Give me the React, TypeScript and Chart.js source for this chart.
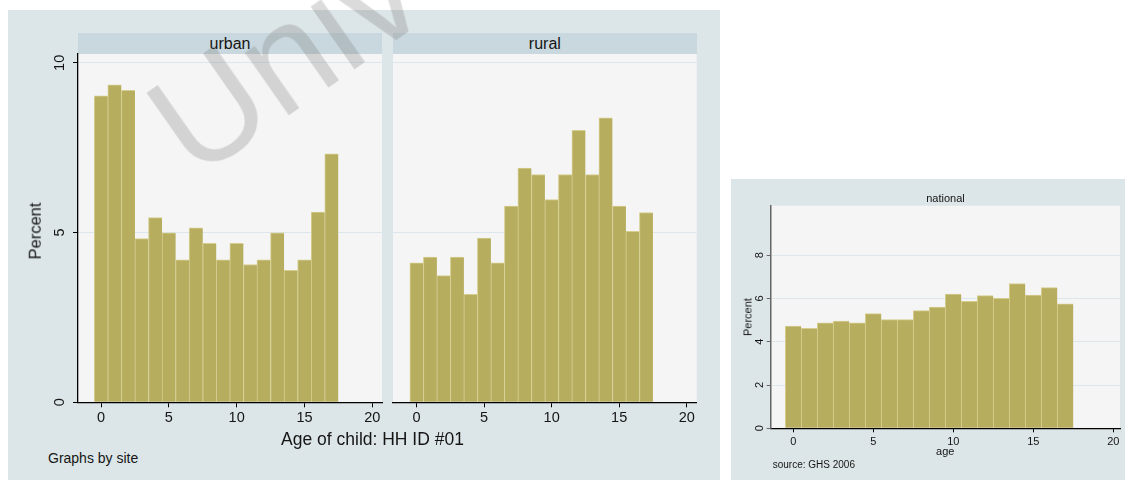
import React, { useEffect, useRef } from "react";
import { Chart, registerables } from "chart.js";

Chart.register(...registerables);

// ---------- data ----------
const ages = [0, 1, 2, 3, 4, 5, 6, 7, 8, 9, 10, 11, 12, 13, 14, 15, 16, 17];
const urbanPercent = [9.03, 9.35, 9.19, 4.82, 5.44, 4.99, 4.2, 5.14, 4.68, 4.2, 4.68, 4.06, 4.2, 4.99, 3.89, 4.2, 5.6, 7.32];
const ruralPercent = [4.11, 4.28, 3.73, 4.28, 3.18, 4.84, 4.11, 5.78, 6.9, 6.71, 5.97, 6.71, 8.01, 6.71, 8.38, 5.78, 5.04, 5.59];
const nationalPercent = [4.73, 4.62, 4.87, 4.96, 4.88, 5.3, 5.02, 5.02, 5.44, 5.6, 6.21, 5.87, 6.13, 6.01, 6.69, 6.16, 6.5, 5.75];
const ageTicks = [0, 5, 10, 15, 20];
const siteYTicks = [0, 5, 10];
const nationalYTicks = [0, 2, 4, 6, 8];

// ---------- styles ----------
const FONT = '"Liberation Sans", Arial, Helvetica, sans-serif';
const BAR_FILL = "#b7ad5f";
const BAR_EDGE = "#d5cd8e";
const PLOT_BG = "#f5f5f5";
const GRAPH_BG = "#dce5e7";
const STRIP_BG = "#c9d8de";
const GRID = "#dde6ea";
const TEXT = "#151515";

type Spec = {
  box: { left: number; top: number; width: number; height: number };
  area: { left: number; top: number; right: number; bottom: number };
  values: number[];
  xMin: number;
  xMax: number;
  yMax: number;
  xTicks: number[];
  yTicks: number[];
  tickFont: number;
  xLabelY: number;
  yLabelX: number;
  showYAxis: boolean;
  yAxisColor: string;
  yAxisWidth: number;
  xAxisWidth: number;
  tickLen: number;
};

function Panel({ spec }: { spec: Spec }) {
  const ref = useRef<HTMLCanvasElement>(null);
  useEffect(() => {
    const s = spec;
    const { box, area } = s;
    const yW = 10;
    const xH = 10;
    const padL = area.left - box.left - yW;
    const padT = area.top - box.top;
    const padR = box.left + box.width - area.right;
    const padB = box.top + box.height - area.bottom - xH;

    const stataPlugin = {
      id: "stataPanel",
      beforeDraw(chart: any) {
        const { ctx, chartArea } = chart;
        ctx.save();
        ctx.fillStyle = PLOT_BG;
        ctx.fillRect(chartArea.left, chartArea.top, chartArea.right - chartArea.left, chartArea.bottom - chartArea.top);
        ctx.restore();
      },
      afterDraw(chart: any) {
        const ctx = chart.ctx;
        ctx.save();
        ctx.fillStyle = TEXT;
        ctx.font = `${s.tickFont}px ${FONT}`;
        ctx.textAlign = "center";
        ctx.textBaseline = "middle";
        const xs = chart.scales.x;
        s.xTicks.forEach((v) => {
          ctx.fillText(String(v), xs.getPixelForValue(v), s.xLabelY - box.top);
        });
        if (s.showYAxis) {
          const ys = chart.scales.y;
          s.yTicks.forEach((v) => {
            const py = ys.getPixelForValue(v);
            ctx.save();
            ctx.translate(s.yLabelX - box.left, py);
            ctx.rotate(-Math.PI / 2);
            ctx.fillText(String(v), 0, 0);
            ctx.restore();
          });
        }
        ctx.restore();
      },
    };

    const chart = new Chart(ref.current as HTMLCanvasElement, {
      type: "bar",
      data: {
        datasets: [
          {
            data: ages.map((a, i) => ({ x: a, y: s.values[i] })) as any,
            backgroundColor: BAR_FILL,
            borderColor: BAR_EDGE,
            borderWidth: { left: 1, top: 1, right: 0, bottom: 0 } as any,
            borderSkipped: false,
            barPercentage: 1,
            categoryPercentage: 1,
          },
        ],
      },
      options: {
        animation: false,
        responsive: false,
        maintainAspectRatio: false,
        events: [],
        layout: {
          padding: { left: padL, top: padT, right: padR, bottom: padB },
          autoPadding: false,
        } as any,
        plugins: {
          legend: { display: false },
          tooltip: { enabled: false },
          title: { display: false },
        },
        scales: {
          x: {
            type: "linear",
            min: s.xMin,
            max: s.xMax,
            offset: false,
            z: 1,
            afterBuildTicks: (sc: any) => {
              sc.ticks = s.xTicks.map((v) => ({ value: v }));
            },
            afterFit: (sc: any) => {
              sc.height = xH;
            },
            ticks: { display: false },
            grid: {
              offset: false,
              drawOnChartArea: false,
              drawTicks: true,
              tickLength: s.tickLen,
              tickColor: "#000",
              tickWidth: 1,
            },
            border: { display: true, color: "#000", width: s.xAxisWidth },
          },
          y: {
            type: "linear",
            min: 0,
            max: s.yMax,
            afterBuildTicks: (sc: any) => {
              sc.ticks = s.yTicks.map((v) => ({ value: v }));
            },
            afterFit: (sc: any) => {
              sc.width = yW;
            },
            ticks: { display: false },
            grid: {
              color: GRID,
              lineWidth: 1,
              drawTicks: s.showYAxis,
              tickLength: s.tickLen,
              tickColor: s.yAxisColor,
              tickWidth: 1,
            },
            border: { display: s.showYAxis, color: s.yAxisColor, width: s.yAxisWidth },
          },
        } as any,
      },
      plugins: [stataPlugin],
    });
    return () => chart.destroy();
  }, [spec]);

  const { box } = spec;
  return (
    <canvas
      ref={ref}
      width={box.width}
      height={box.height}
      style={{ position: "absolute", left: box.left, top: box.top, width: box.width, height: box.height }}
    />
  );
}

const urbanSpec: Spec = {
  box: { left: 40, top: 50, width: 345, height: 380 },
  area: { left: 78, top: 54, right: 382, bottom: 402.3 },
  values: urbanPercent,
  xMin: -1.7,
  xMax: 20.72,
  yMax: 10.26,
  xTicks: ageTicks,
  yTicks: siteYTicks,
  tickFont: 14.5,
  xLabelY: 418,
  yLabelX: 60,
  showYAxis: true,
  yAxisColor: "#000",
  yAxisWidth: 1.3,
  xAxisWidth: 1.3,
  tickLen: 5,
};

const ruralSpec: Spec = {
  box: { left: 383, top: 50, width: 320, height: 380 },
  area: { left: 393, top: 54, right: 696.7, bottom: 402.3 },
  values: ruralPercent,
  xMin: -1.75,
  xMax: 20.74,
  yMax: 10.26,
  xTicks: ageTicks,
  yTicks: siteYTicks,
  tickFont: 14.5,
  xLabelY: 418,
  yLabelX: 375,
  showYAxis: false,
  yAxisColor: "#000",
  yAxisWidth: 1.3,
  xAxisWidth: 1.3,
  tickLen: 5,
};

const nationalSpec: Spec = {
  box: { left: 731, top: 180, width: 394, height: 300 },
  area: { left: 770.7, top: 205.7, right: 1120, bottom: 428.3 },
  values: nationalPercent,
  xMin: -1.41,
  xMax: 20.42,
  yMax: 10.29,
  xTicks: ageTicks,
  yTicks: nationalYTicks,
  tickFont: 11,
  xLabelY: 441.7,
  yLabelX: 760,
  showYAxis: true,
  yAxisColor: "#666",
  yAxisWidth: 1.5,
  xAxisWidth: 1.2,
  tickLen: 4,
};

function Label({
  x,
  y,
  size,
  text,
  rotate = 0,
  anchor = "center",
}: {
  x: number;
  y: number;
  size: number;
  text: string;
  rotate?: number;
  anchor?: "center" | "left";
}) {
  return (
    <div
      style={{
        position: "absolute",
        left: x,
        top: y,
        transform: `translate(${anchor === "left" ? "0" : "-50%"}, -50%) rotate(${rotate}deg)`,
        fontSize: size,
        fontFamily: FONT,
        color: TEXT,
        whiteSpace: "nowrap",
        lineHeight: 1,
      }}
    >
      {text}
    </div>
  );
}

function Strip({ left, width, text }: { left: number; width: number; text: string }) {
  return (
    <div
      style={{
        position: "absolute",
        left,
        top: 33,
        width,
        height: 21,
        background: STRIP_BG,
        fontFamily: FONT,
        fontSize: 16,
        lineHeight: "21px",
        textAlign: "center",
        color: TEXT,
      }}
    >
      {text}
    </div>
  );
}

export default function App() {
  return (
    <div style={{ position: "absolute", left: 0, top: 0, width: 1125, height: 480, overflow: "hidden", background: "#fff" }}>
      <div style={{ position: "absolute", left: 8, top: 10, width: 712, height: 470, background: GRAPH_BG }} />
      <div style={{ position: "absolute", left: 731, top: 179, width: 394, height: 301, background: GRAPH_BG }} />
      <Strip left={78} width={304} text="urban" />
      <Strip left={393} width={303.7} text="rural" />
      <Panel spec={urbanSpec} />
      <Panel spec={ruralSpec} />
      <Panel spec={nationalSpec} />
      <Label x={35} y={231} size={16.5} text="Percent" rotate={-90} />
      <Label x={372.5} y={440} size={17.5} text="Age of child: HH ID #01" />
      <Label x={48} y={458} size={14} text="Graphs by site" anchor="left" />
      <Label x={945.5} y={198.3} size={11} text="national" />
      <Label x={748.3} y={317} size={11} text="Percent" rotate={-90} />
      <Label x={945.3} y={451} size={11} text="age" />
      <Label x={772.7} y={465.3} size={10} text="source: GHS 2006" anchor="left" />
      <div
        style={{
          position: "absolute",
          left: 208,
          top: 200 - 145,
          fontFamily: FONT,
          fontSize: 145,
          lineHeight: "145px",
          color: "rgba(110,110,110,0.25)",
          whiteSpace: "nowrap",
          transformOrigin: "0 100%",
          transform: "rotate(-35deg)",
          pointerEvents: "none",
        }}
      >
        University of Cape Town
      </div>
    </div>
  );
}
